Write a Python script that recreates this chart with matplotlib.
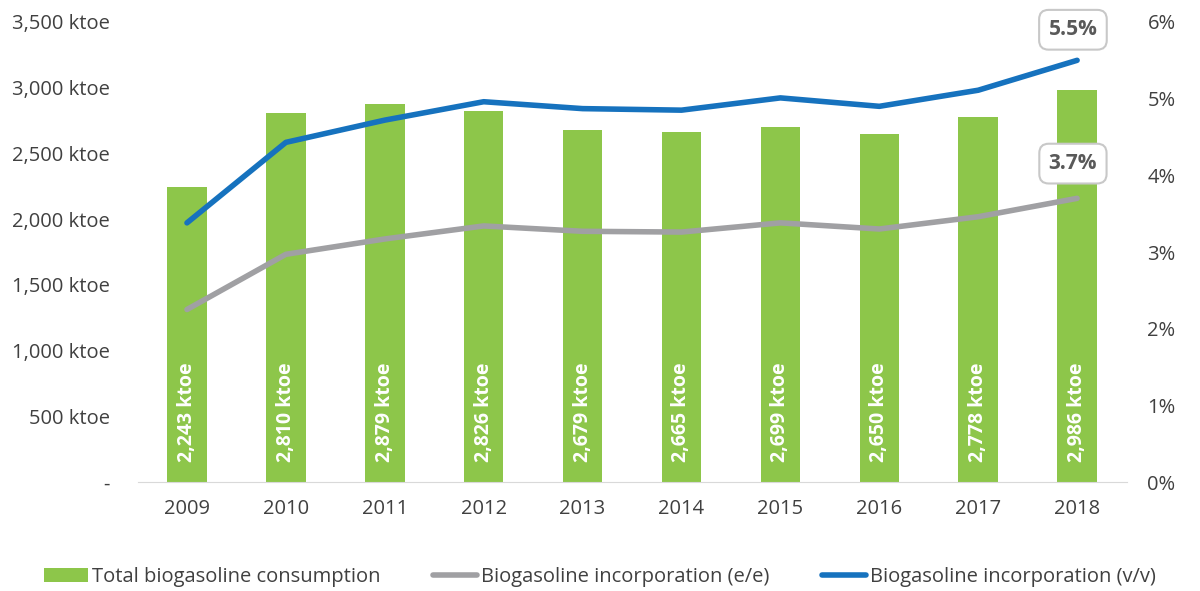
import matplotlib.pyplot as plt
import numpy as np
from matplotlib.ticker import FuncFormatter

# data
years = ['2009', '2010', '2011', '2012', '2013', '2014', '2015', '2016', '2017', '2018']
consumption = [2243, 2810, 2879, 2826, 2679, 2665, 2699, 2650, 2778, 2986]
incorp_ee = [2.25, 2.97, 3.17, 3.34, 3.27, 3.26, 3.38, 3.30, 3.46, 3.70]
incorp_vv = [3.38, 4.43, 4.72, 4.96, 4.87, 4.85, 5.01, 4.90, 5.11, 5.50]

green = '#8DC64A'
grey = '#A0A0A3'
blue = '#1672BE'
text_col = '#404040'

plt.rcParams['font.family'] = ['Open Sans', 'DejaVu Sans']

fig = plt.figure(figsize=(12, 5.91), dpi=100)
ax = fig.add_axes([0.1146, 0.1844, 0.8242, 0.7784])
ax2 = ax.twinx()

x = np.arange(len(years))
ax.bar(x, consumption, width=0.4, color=green, label='Total biogasoline consumption', zorder=2)
for xi, v in zip(x, consumption):
    ax.text(xi, 150, f'{v:,} ktoe', rotation=90, ha='center', va='bottom',
            color='white', fontsize=14, fontweight='bold', zorder=3)

ax.set_xlim(-0.5, len(years) - 0.5)
ax.set_ylim(0, 3500)
ax.set_yticks(np.arange(0, 3501, 500))
ax.yaxis.set_major_formatter(FuncFormatter(lambda v, p: '-' if v == 0 else f'{int(v):,} ktoe'))
ax.set_xticks(x)
ax.set_xticklabels(years)

ax2.plot(x, incorp_ee, color=grey, lw=4, solid_capstyle='round', label='Biogasoline incorporation (e/e)')
ax2.plot(x, incorp_vv, color=blue, lw=4, solid_capstyle='round', label='Biogasoline incorporation (v/v)')
ax2.set_ylim(0, 6)
ax2.set_yticks(range(0, 7))
ax2.yaxis.set_major_formatter(FuncFormatter(lambda v, p: f'{int(v)}%'))

box = dict(boxstyle='round,pad=0.45,rounding_size=0.45', fc='white', ec='#C8C8C8', lw=1.5)
ax2.annotate(f'{incorp_vv[-1]:.1f}%', (x[-1], incorp_vv[-1]), xytext=(-3, 22), textcoords='offset points',
             ha='center', va='center', fontsize=15, fontweight='bold', color='#595959', bbox=box)
ax2.annotate(f'{incorp_ee[-1]:.1f}%', (x[-1], incorp_ee[-1]), xytext=(-3, 25), textcoords='offset points',
             ha='center', va='center', fontsize=15, fontweight='bold', color='#595959', bbox=box)

for a in (ax, ax2):
    for s in ('top', 'left', 'right'):
        a.spines[s].set_visible(False)
    a.tick_params(length=0, labelsize=14.5, labelcolor=text_col)
ax.spines['bottom'].set_color('#D9D9D9')
ax2.spines['bottom'].set_visible(False)
ax.tick_params(axis='x', pad=12)
ax.tick_params(axis='y', pad=20)
ax2.tick_params(axis='y', pad=15)

h1, l1 = ax.get_legend_handles_labels()
h2, l2 = ax2.get_legend_handles_labels()
fig.legend(h1 + h2, l1 + l2, loc='center', bbox_to_anchor=(0.5, 0.024), ncol=3, frameon=False,
           fontsize=14.5, labelcolor=text_col, handlelength=2.2, handletextpad=0.2, columnspacing=2.6)

fig.savefig('out.png', dpi=100)
